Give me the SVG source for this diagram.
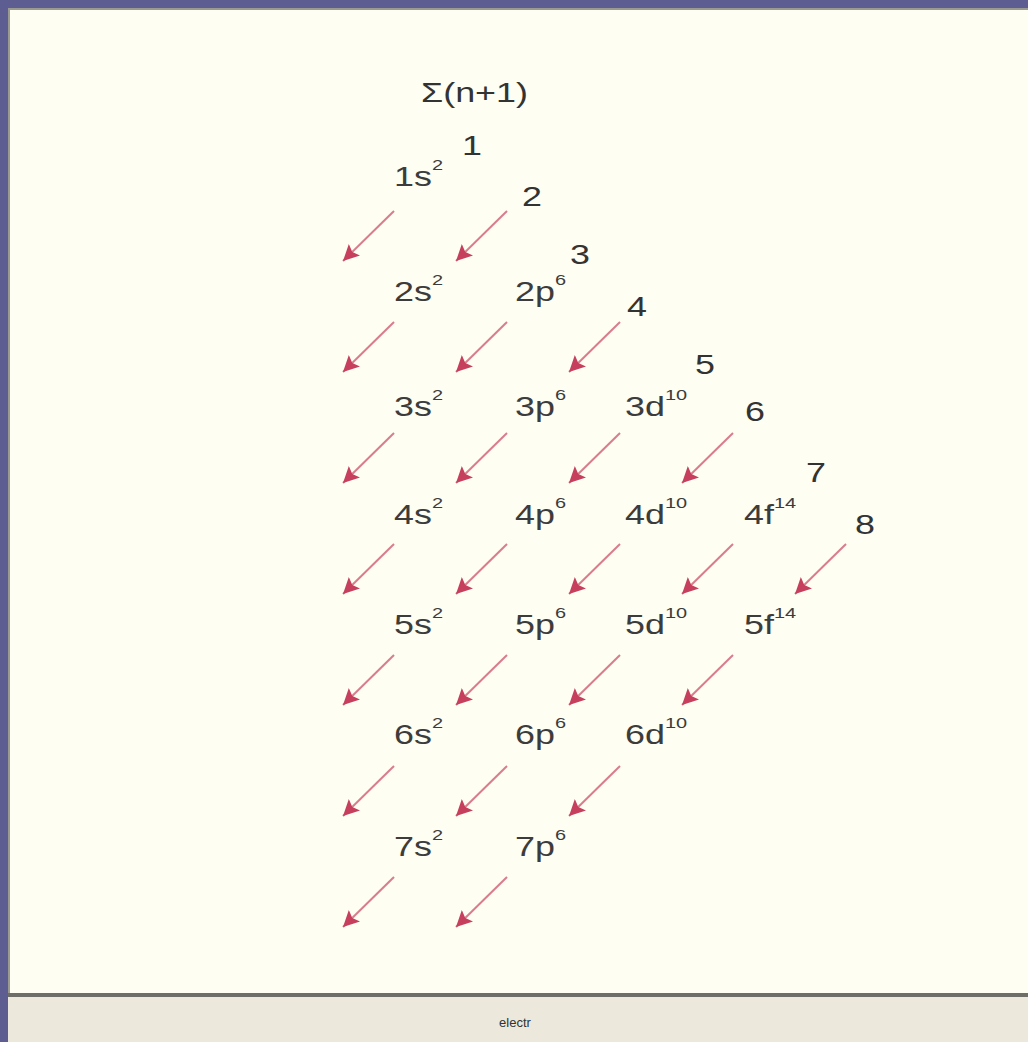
<svg xmlns="http://www.w3.org/2000/svg" width="1028" height="1042" viewBox="0 0 1028 1042">
<style>
.lbl{font-family:"Liberation Sans",Arial,sans-serif;font-size:27px;fill:#3c3c3c}
.sup{font-size:15px}
.sum{font-family:"Liberation Sans",Arial,sans-serif;font-size:27px;fill:#333}
.arr{stroke:#d97c8c;stroke-width:2;fill:none;marker-end:url(#ah)}
.status{font-family:"Liberation Sans",Arial,sans-serif;font-size:13px;fill:#333}
</style>
<defs>
<marker id="ah" markerUnits="userSpaceOnUse" markerWidth="20" markerHeight="18" refX="16" refY="8" orient="auto">
<path d="M0,0 L16,8 L0,16 L3,8 Z" fill="#c63f5c"/>
</marker>
</defs>
<rect x="0" y="0" width="1028" height="1042" fill="#5d5d92"/>
<rect x="8" y="8" width="1020" height="990" fill="#fefef2"/>
<rect x="8" y="8" width="1020" height="2" fill="#9a9a90"/>
<rect x="8" y="8" width="2" height="990" fill="#9a9a90"/>
<rect x="8" y="993" width="1020" height="4" fill="#6e6e68"/>
<rect x="8" y="997" width="1020" height="45" fill="#ece8dc"/>
<text class="status" x="515" y="1027" text-anchor="middle">electr</text>

<g id="title"><text class="sum" transform="matrix(1.33 0 0 1 421 102)">Σ(n+1)</text></g>

<g id="sums">
<text class="sum" transform="matrix(1.33 0 0 1 462 155)">1</text>
<text class="sum" transform="matrix(1.33 0 0 1 522 206)">2</text>
<text class="sum" transform="matrix(1.33 0 0 1 570 264)">3</text>
<text class="sum" transform="matrix(1.33 0 0 1 627 316)">4</text>
<text class="sum" transform="matrix(1.33 0 0 1 695 374)">5</text>
<text class="sum" transform="matrix(1.33 0 0 1 745 421)">6</text>
<text class="sum" transform="matrix(1.33 0 0 1 806 482)">7</text>
<text class="sum" transform="matrix(1.33 0 0 1 855 534)">8</text>
</g>

<g id="n1s"><text class="lbl" transform="matrix(1.33 0 0 1 394 186)">1s<tspan class="sup" dy="-16">2</tspan></text></g>
<g id="n2s"><text class="lbl" transform="matrix(1.33 0 0 1 394 301)">2s<tspan class="sup" dy="-16">2</tspan></text></g>
<g id="n2p"><text class="lbl" transform="matrix(1.33 0 0 1 515 301)">2p<tspan class="sup" dy="-16">6</tspan></text></g>
<g id="n3s"><text class="lbl" transform="matrix(1.33 0 0 1 394 416)">3s<tspan class="sup" dy="-16">2</tspan></text></g>
<g id="n3p"><text class="lbl" transform="matrix(1.33 0 0 1 515 416)">3p<tspan class="sup" dy="-16">6</tspan></text></g>
<g id="n3d"><text class="lbl" transform="matrix(1.33 0 0 1 625 416)">3d<tspan class="sup" dy="-16">10</tspan></text></g>
<g id="n4s"><text class="lbl" transform="matrix(1.33 0 0 1 394 524)">4s<tspan class="sup" dy="-16">2</tspan></text></g>
<g id="n4p"><text class="lbl" transform="matrix(1.33 0 0 1 515 524)">4p<tspan class="sup" dy="-16">6</tspan></text></g>
<g id="n4d"><text class="lbl" transform="matrix(1.33 0 0 1 625 524)">4d<tspan class="sup" dy="-16">10</tspan></text></g>
<g id="n4f"><text class="lbl" transform="matrix(1.33 0 0 1 744 524)">4f<tspan class="sup" dy="-16">14</tspan></text></g>
<g id="n5s"><text class="lbl" transform="matrix(1.33 0 0 1 394 634)">5s<tspan class="sup" dy="-16">2</tspan></text></g>
<g id="n5p"><text class="lbl" transform="matrix(1.33 0 0 1 515 634)">5p<tspan class="sup" dy="-16">6</tspan></text></g>
<g id="n5d"><text class="lbl" transform="matrix(1.33 0 0 1 625 634)">5d<tspan class="sup" dy="-16">10</tspan></text></g>
<g id="n5f"><text class="lbl" transform="matrix(1.33 0 0 1 744 634)">5f<tspan class="sup" dy="-16">14</tspan></text></g>
<g id="n6s"><text class="lbl" transform="matrix(1.33 0 0 1 394 744)">6s<tspan class="sup" dy="-16">2</tspan></text></g>
<g id="n6p"><text class="lbl" transform="matrix(1.33 0 0 1 515 744)">6p<tspan class="sup" dy="-16">6</tspan></text></g>
<g id="n6d"><text class="lbl" transform="matrix(1.33 0 0 1 625 744)">6d<tspan class="sup" dy="-16">10</tspan></text></g>
<g id="n7s"><text class="lbl" transform="matrix(1.33 0 0 1 394 856)">7s<tspan class="sup" dy="-16">2</tspan></text></g>
<g id="n7p"><text class="lbl" transform="matrix(1.33 0 0 1 515 856)">7p<tspan class="sup" dy="-16">6</tspan></text></g>

<g id="connectors">
<line class="arr" x1="394" y1="211" x2="343" y2="261"/>
<line class="arr" x1="507" y1="211" x2="456" y2="261"/>

<line class="arr" x1="394" y1="322" x2="343" y2="372"/>
<line class="arr" x1="507" y1="322" x2="456" y2="372"/>
<line class="arr" x1="620" y1="322" x2="569" y2="372"/>

<line class="arr" x1="394" y1="433" x2="343" y2="483"/>
<line class="arr" x1="507" y1="433" x2="456" y2="483"/>
<line class="arr" x1="620" y1="433" x2="569" y2="483"/>
<line class="arr" x1="733" y1="433" x2="682" y2="483"/>

<line class="arr" x1="394" y1="544" x2="343" y2="594"/>
<line class="arr" x1="507" y1="544" x2="456" y2="594"/>
<line class="arr" x1="620" y1="544" x2="569" y2="594"/>
<line class="arr" x1="733" y1="544" x2="682" y2="594"/>
<line class="arr" x1="846" y1="544" x2="795" y2="594"/>

<line class="arr" x1="394" y1="655" x2="343" y2="705"/>
<line class="arr" x1="507" y1="655" x2="456" y2="705"/>
<line class="arr" x1="620" y1="655" x2="569" y2="705"/>
<line class="arr" x1="733" y1="655" x2="682" y2="705"/>

<line class="arr" x1="394" y1="766" x2="343" y2="816"/>
<line class="arr" x1="507" y1="766" x2="456" y2="816"/>
<line class="arr" x1="620" y1="766" x2="569" y2="816"/>

<line class="arr" x1="394" y1="877" x2="343" y2="927"/>
<line class="arr" x1="507" y1="877" x2="456" y2="927"/>
</g>
</svg>
